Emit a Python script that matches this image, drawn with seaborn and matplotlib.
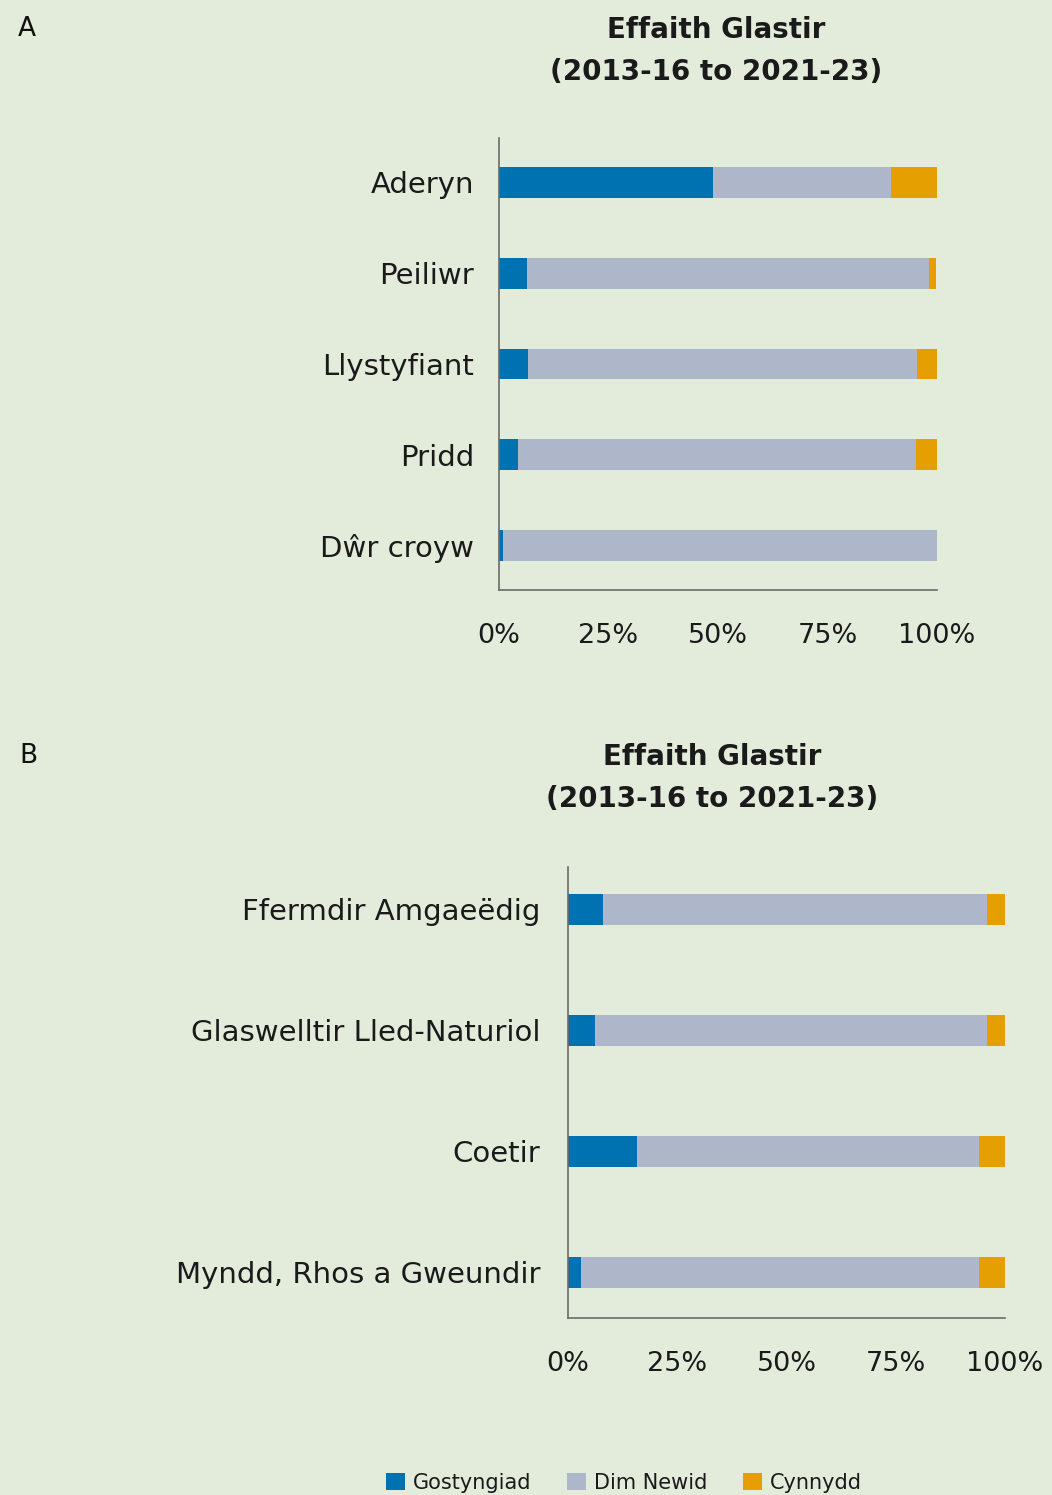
import numpy as np
import pandas as pd
import seaborn as sns
import matplotlib.pyplot as plt
from matplotlib.patches import Patch

# Panel A data (% of sites)
cats_a = ["Aderyn", "Peiliwr", "Llystyfiant", "Pridd", "Dŵr croyw"]
dec_a = [48.9, 6.4, 6.6, 4.3, 0.9]
none_a = [40.6, 91.8, 88.8, 90.9, 99.1]
inc_a = [10.5, 1.6, 4.6, 4.8, 0.0]

# Panel B data (% of sites)
cats_b = ["Ffermdir Amgaeëdig", "Glaswelltir Lled-Naturiol", "Coetir", "Myndd, Rhos a Gweundir"]
dec_b = [8.0, 6.2, 15.8, 3.0]
none_b = [87.9, 89.7, 78.3, 91.1]
inc_b = [4.1, 4.1, 5.9, 5.9]

series = ["Gostyngiad", "Dim Newid", "Cynnydd"]
colors = ["#0072b2", "#adb7c9", "#e69f00"]
title = "Effaith Glastir\n(2013-16 to 2021-23)"

bg = "#e3ecdb"
sns.set_theme(style="white")
plt.rcParams['font.family'] = ['DejaVu Sans']
plt.rcParams['axes.facecolor'] = bg
plt.rcParams['figure.facecolor'] = bg

fig = plt.figure(figsize=(10.52, 14.95), dpi=100)
ax_a = fig.add_axes([499 / 1052, 1 - 590 / 1495, 438 / 1052, 452 / 1495])
ax_b = fig.add_axes([568 / 1052, 1 - 1318 / 1495, 437 / 1052, 451 / 1495])


def stacked(ax, cats, dec, none, inc, width, ylim, ypad):
    df = pd.DataFrame({"cat": cats, "dec": dec, "none": none, "inc": inc})
    df["c1"] = df["dec"]
    df["c2"] = df["dec"] + df["none"]
    df["c3"] = df["c2"] + df["inc"]
    # draw cumulative totals from the longest down, so each segment shows
    for col, colr in zip(["c3", "c2", "c1"], colors[::-1]):
        sns.barplot(data=df, x=col, y="cat", orient="h", color=colr,
                    width=width, saturation=1, linewidth=0, ax=ax)
    ax.set_xlim(0, 100)
    ax.set_ylim(*ylim)
    ax.set_xticks([0, 25, 50, 75, 100])
    ax.set_xticklabels(["0%", "25%", "50%", "75%", "100%"])
    ax.set_xlabel("")
    ax.set_ylabel("")
    for s in ["top", "right"]:
        ax.spines[s].set_visible(False)
    for s in ["left", "bottom"]:
        ax.spines[s].set_color("#6b6b6b")
        ax.spines[s].set_linewidth(1.2)
    ax.tick_params(axis="x", length=0, pad=24, labelsize=19.5, colors="#1a1a1a")
    ax.tick_params(axis="y", length=0, pad=ypad, labelsize=21, colors="#1a1a1a")


stacked(ax_a, cats_a, dec_a, none_a, inc_a, 0.34, (4.49, -0.49), 18)
stacked(ax_b, cats_b, dec_b, none_b, inc_b, 0.256, (3.38, -0.35), 20)

fig.text(716 / 1052, 1 - 51 / 1495, title, ha="center", va="center",
         fontsize=20, fontweight="bold", color="#1a1a1a", linespacing=1.6)
fig.text(712 / 1052, 1 - 778 / 1495, title, ha="center", va="center",
         fontsize=20, fontweight="bold", color="#1a1a1a", linespacing=1.6)
fig.text(27 / 1052, 1 - 29 / 1495, "A", ha="center", va="center", fontsize=19, color="#111111")
fig.text(28 / 1052, 1 - 756 / 1495, "B", ha="center", va="center", fontsize=19, color="#111111")

handles = [Patch(facecolor=c, edgecolor="none", label=l) for c, l in zip(colors, series)]
fig.legend(handles=handles, loc="center", bbox_to_anchor=(624 / 1052, 1 - 1483 / 1495),
           ncol=3, frameon=False, fontsize=15, handlelength=0.9, handleheight=0.9,
           handletextpad=0.4, columnspacing=1.7, labelcolor="#1a1a1a")

fig.savefig("out.png", dpi=100, facecolor=bg)
